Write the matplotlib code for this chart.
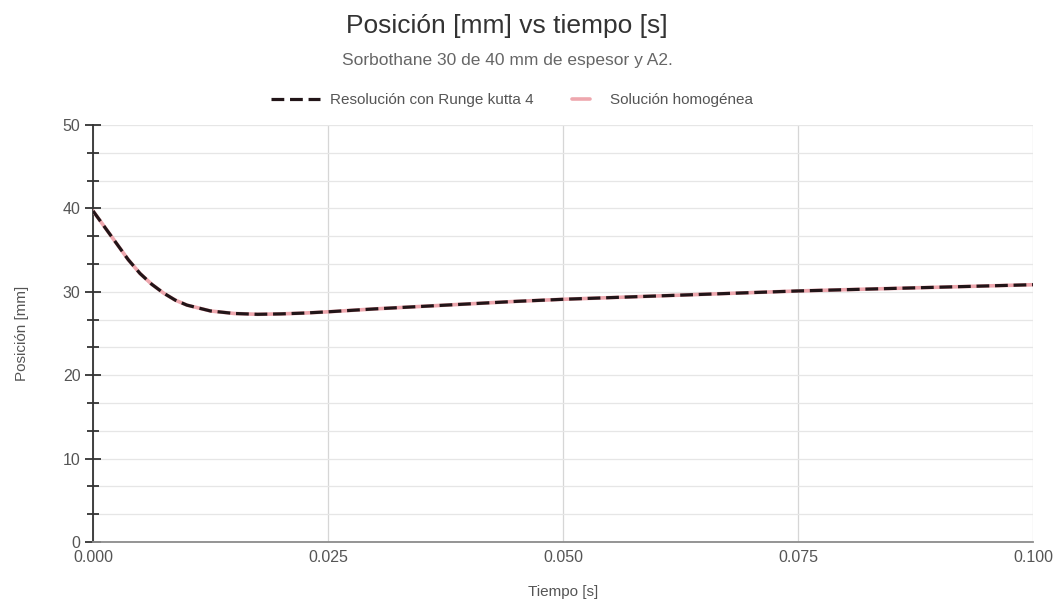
import numpy as np
import matplotlib
matplotlib.use("Agg")
import matplotlib.pyplot as plt
from matplotlib.ticker import MultipleLocator, FormatStrFormatter
from matplotlib.legend_handler import HandlerLine2D

plt.rcParams['font.family'] = ['Liberation Sans', 'DejaVu Sans']

# Time samples [s]
t = [0.0, 0.00125, 0.0025, 0.00375, 0.005, 0.00625, 0.0075, 0.00875, 0.01,
     0.0125, 0.015, 0.0175, 0.02, 0.0225, 0.025, 0.03, 0.035, 0.04, 0.045,
     0.05, 0.055, 0.06, 0.065, 0.07, 0.075, 0.08, 0.085, 0.09, 0.095, 0.1]

# Position [mm] from the Runge-Kutta 4 integration
pos_rk4 = [39.7, 37.75, 35.8, 33.85, 32.2, 30.9, 29.85, 29.0, 28.4,
           27.7, 27.4, 27.3, 27.35, 27.45, 27.6, 27.95, 28.25, 28.55, 28.85,
           29.1, 29.3, 29.5, 29.7, 29.9, 30.1, 30.25, 30.4, 30.55, 30.7, 30.85]

# Position [mm] from the analytic homogeneous solution
pos_hom = [39.7, 37.75, 35.8, 33.85, 32.2, 30.9, 29.85, 29.0, 28.4,
           27.7, 27.4, 27.3, 27.35, 27.45, 27.6, 27.95, 28.25, 28.55, 28.85,
           29.1, 29.3, 29.5, 29.7, 29.9, 30.1, 30.25, 30.4, 30.55, 30.7, 30.85]

title = "Posición [mm] vs tiempo [s]"
subtitle = "Sorbothane 30 de 40 mm de espesor y A2."
label_rk4 = "Resolución con Runge kutta 4"
label_hom = "Solución homogénea"
xlabel = "Tiempo [s]"
ylabel = "Posición [mm]"


class HandlerShortLine(HandlerLine2D):
    """Legend handle drawn as a short segment on the right of the handle box."""
    def get_xdata(self, legend, xdescent, ydescent, width, height, fontsize):
        x0 = -xdescent + 0.42 * width
        x1 = -xdescent + 0.78 * width
        return np.array([x0, x1]), np.array([(x0 + x1) / 2])


fig = plt.figure(figsize=(10.58, 6.03), dpi=100)
fig.patch.set_facecolor("white")
ax = fig.add_axes([0.0879, 0.1012, 0.9764 - 0.0879, 0.7927 - 0.1012])

line_hom, = ax.plot(t, pos_hom, color="#eea7ae", lw=2.6, zorder=3,
                    solid_capstyle="round")
line_rk4, = ax.plot(t, pos_rk4, color="#221518", lw=2.3, zorder=4,
                    linestyle=(0, (4.0, 1.8)))

ax.set_xlim(0, 0.1)
ax.set_ylim(0, 50)
ax.xaxis.set_major_locator(MultipleLocator(0.025))
ax.xaxis.set_major_formatter(FormatStrFormatter("%.3f"))
ax.yaxis.set_major_locator(MultipleLocator(10))
ax.yaxis.set_minor_locator(MultipleLocator(10 / 3))

ax.grid(True, axis="x", which="major", color="#d6d6d6", lw=0.9)
ax.grid(True, axis="y", which="both", color="#e6e6e6", lw=0.9)
ax.set_axisbelow(True)

for side in ("top", "right"):
    ax.spines[side].set_visible(False)
ax.spines["left"].set_color("#333333")
ax.spines["left"].set_linewidth(1.3)
ax.spines["bottom"].set_color("#8c8c8c")
ax.spines["bottom"].set_linewidth(1.3)

ax.tick_params(axis="y", which="major", direction="inout", length=12,
               width=1.3, color="#333333", labelsize=11.5, labelcolor="#555555",
               pad=3)
ax.tick_params(axis="y", which="minor", direction="inout", length=8,
               width=1.3, color="#333333")
ax.tick_params(axis="x", which="major", length=0, labelsize=11.5,
               labelcolor="#555555", pad=6)

ax.set_xlabel(xlabel, fontsize=11, color="#555555", labelpad=14)
ax.set_ylabel(ylabel, fontsize=11, color="#555555", labelpad=24)

fig.text(0.479, 1 - 26 / 603, title, ha="center", va="center",
         fontsize=19, color="#333333")
fig.text(0.480, 1 - 61 / 603, subtitle, ha="center", va="center",
         fontsize=12.5, color="#666666")

fig.legend([line_rk4, line_hom], [label_rk4, label_hom],
           loc="center", bbox_to_anchor=(512 / 1058, 1 - 100 / 603),
           ncol=2, frameon=False, fontsize=11, labelcolor="#555555",
           handlelength=3.2, handletextpad=0.6, columnspacing=1.2,
           handler_map={line_hom: HandlerShortLine()})

fig.savefig("out.png", dpi=100, facecolor="white")
